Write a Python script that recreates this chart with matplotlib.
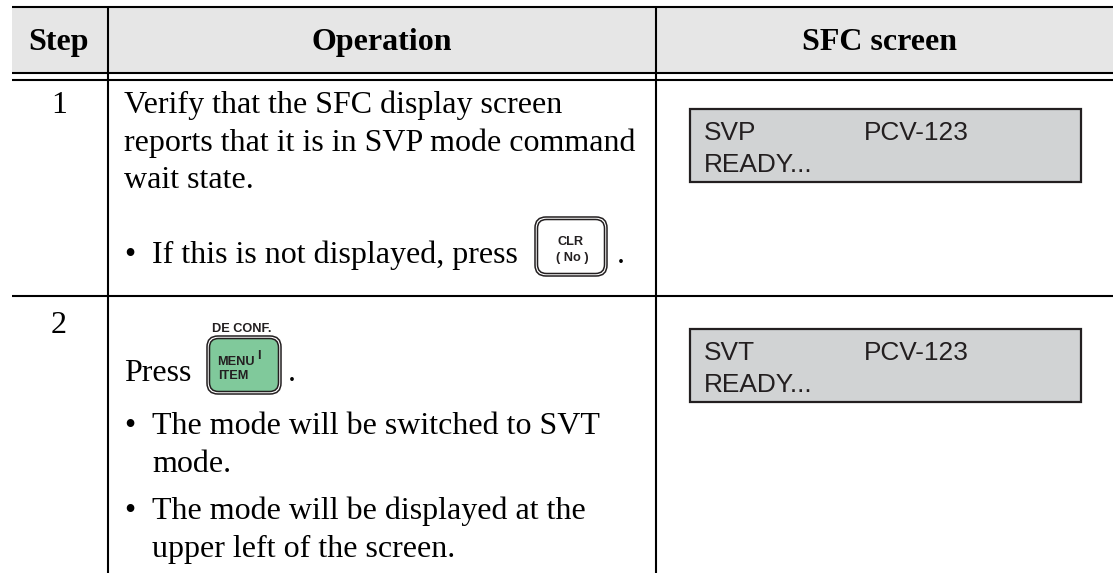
"""
Procedure table: SFC screen steps, drawn in pixel coordinates.
"""
import matplotlib
matplotlib.use("Agg")
import matplotlib.pyplot as plt
from matplotlib.patches import FancyBboxPatch, Rectangle

W, H = 1115, 573

header_labels = ["Step", "Operation", "SFC screen"]
step_labels = ["1", "2"]
step1_lines = ["Verify that the SFC display screen",
               "reports that it is in SVP mode command",
               "wait state."]
step1_bullet = "If this is not displayed, press"
step2_press = "Press"
step2_lines = [["The mode will be switched to SVT", "mode."],
               ["The mode will be displayed at the", "upper left of the screen."]]
screen_modes = ["SVP", "SVT"]
screen_model = "PCV-123"
screen_state = "READY..."

SERIF = "Liberation Serif"
SANS = "Liberation Sans"
DARK = "#231f20"
FS = 23
KEY_FS = 9.2
SCREEN_FS = 18.9
RIGHT = 1113


def body(ax, x, y, s, **kw):
    ax.text(x, y, s, family=SERIF, fontsize=FS, va="baseline", **kw)


def keytext(ax, x, y, s, **kw):
    ax.text(x, y, s, family=SANS, fontsize=KEY_FS, fontweight="bold", color=DARK,
            va="baseline", **kw)


def key(ax, x0, y0, x1, y1, face):
    # double outline of a panel key
    ax.add_patch(FancyBboxPatch((x0 + 9, y0 + 9), x1 - x0 - 18, y1 - y0 - 18,
                                boxstyle="round,pad=9,rounding_size=11",
                                fc="white", ec=DARK, lw=1.1))
    ax.add_patch(FancyBboxPatch((x0 + 9, y0 + 9), x1 - x0 - 18, y1 - y0 - 18,
                                boxstyle="round,pad=6.5,rounding_size=9",
                                fc=face, ec=DARK, lw=1.1))


def screen(ax, y0, y1, mode):
    ax.add_patch(Rectangle((690, y0), 391, y1 - y0, fc="#d1d3d4", ec=DARK, lw=1.6))
    ax.text(704, y0 + 31, mode, family=SANS, fontsize=SCREEN_FS, color=DARK, va="baseline")
    ax.text(864, y0 + 31, screen_model, family=SANS, fontsize=SCREEN_FS, color=DARK, va="baseline")
    ax.text(704, y0 + 63, screen_state, family=SANS, fontsize=SCREEN_FS, color=DARK, va="baseline")


fig = plt.figure(figsize=(W / 100, H / 100), dpi=100)
ax = fig.add_axes([0, 0, 1, 1])
ax.set_xlim(0, W)
ax.set_ylim(H, 0)
ax.axis("off")

ax.add_patch(Rectangle((12, 7), RIGHT - 12, 66, fc="#e6e6e6", ec="none"))
for y in [7, 73, 80, 296]:
    ax.plot([12, RIGHT], [y, y], color="black", lw=1.5, solid_capstyle="butt")
for x in [108, 656]:
    ax.plot([x, x], [7, H], color="black", lw=1.5, solid_capstyle="butt")

for x, lab in zip([59, 382, 880], header_labels):
    body(ax, x, 50, lab, fontweight="bold", ha="center")

body(ax, 59, 113, step_labels[0], ha="center")
body(ax, 59, 333, step_labels[1], ha="center")

for y, line in zip([113, 151, 188], step1_lines):
    body(ax, 124, y, line)
body(ax, 124, 263, "\u2022")
body(ax, 152, 263, step1_bullet)
body(ax, 617, 263, ".")

key(ax, 535, 217, 607, 276, "white")
keytext(ax, 571, 245, "CLR", ha="center")
keytext(ax, 572, 261, "( No )", ha="center")

body(ax, 124, 381, step2_press)
body(ax, 288, 381, ".")
key(ax, 207, 336, 281, 394, "#80c99b")
keytext(ax, 242, 332, "DE CONF.", ha="center")
keytext(ax, 217, 365, "MENU")
keytext(ax, 257, 359, "I")
keytext(ax, 218, 379, "ITEM")

for y, lines in zip([434, 519], step2_lines):
    body(ax, 124, y, "\u2022")
    for i, line in enumerate(lines):
        body(ax, 152, y + i * 38, line)

screen(ax, 109, 182, screen_modes[0])
screen(ax, 328.5, 402, screen_modes[1])

fig.savefig("out.png", dpi=100)
